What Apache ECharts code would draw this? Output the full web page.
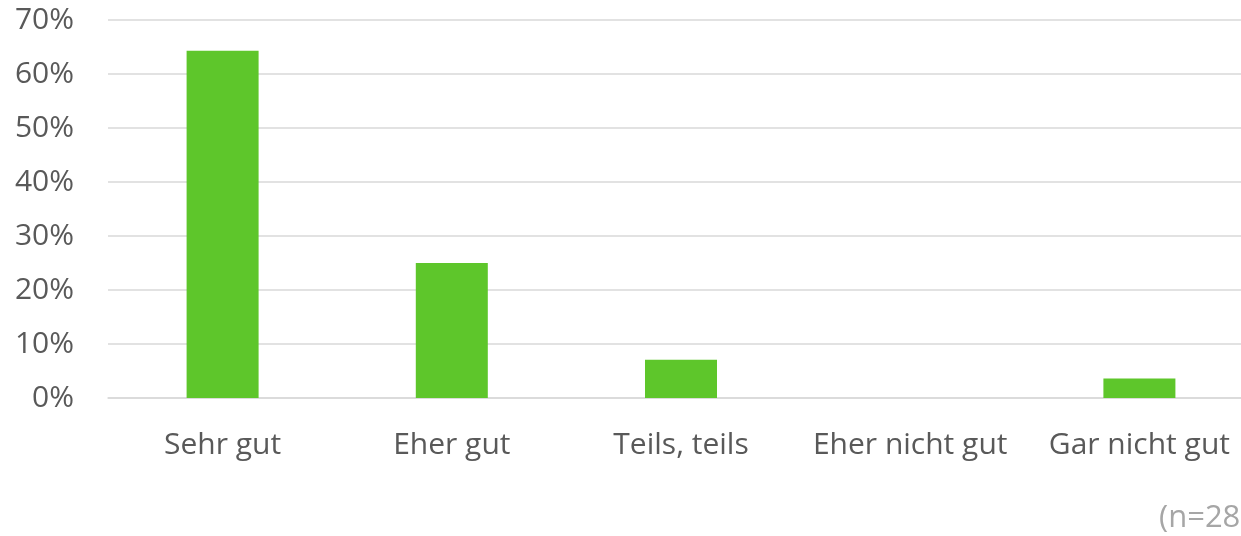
<!DOCTYPE html>
<html>
<head>
<meta charset="utf-8">
<script src="https://cdn.jsdelivr.net/npm/echarts@6/dist/echarts.min.js"></script>
<style>
  html, body { margin: 0; padding: 0; background: #fff; }
  #chart { width: 1241px; height: 536px; }
</style>
</head>
<body>
<div id="chart"></div>
<script>
// answers (n=28), share in percent
const categories = ['Sehr gut', 'Eher gut', 'Teils, teils', 'Eher nicht gut', 'Gar nicht gut']
const shares = [64.3, 25.0, 7.1, 0, 3.6]
const yTicks = [0, 10, 20, 30, 40, 50, 60, 70]
const note = '(n=28)'

const font = '"Open Sans", "Noto Sans", sans-serif'
const chart = echarts.init(document.getElementById('chart'))

chart.setOption({
  animation: false,
  // plot runs past the right edge of the picture, like the source crop
  grid: { left: 108, right: -13, top: 20, bottom: 138, outerBoundsMode: 'none', containLabel: false },
  xAxis: {
    type: 'category',
    data: categories,
    axisLine: { lineStyle: { color: '#d9d9d9', width: 1.5 } },
    axisTick: { show: false },
    axisLabel: { color: '#595959', fontSize: 30, fontFamily: font, margin: 32, interval: 0 }
  },
  yAxis: {
    type: 'value',
    min: yTicks[0],
    max: yTicks[yTicks.length - 1],
    interval: 10,
    axisLine: { show: false },
    axisTick: { show: false },
    splitLine: { lineStyle: { color: '#d9d9d9', width: 1.5 } },
    axisLabel: { color: '#595959', fontSize: 30, fontFamily: font, margin: 34, formatter: '{value}%' }
  },
  series: [{
    type: 'bar',
    data: shares,
    barWidth: 72,
    itemStyle: { color: '#5ec62b' }
  }],
  graphic: [{
    type: 'text',
    left: 1159,
    top: 503,
    style: { text: note, fill: '#a6a6a6', font: '31px ' + font }
  }]
})
</script>
</body>
</html>
